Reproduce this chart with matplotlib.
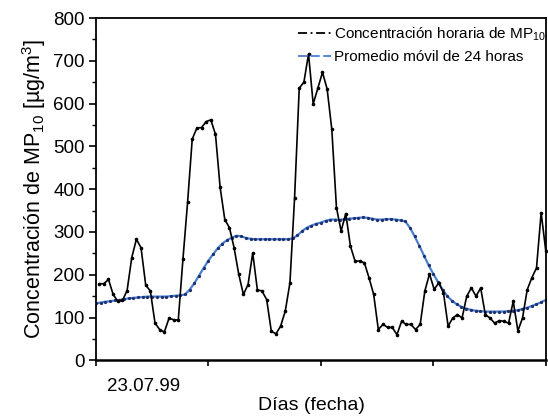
import numpy as np
import matplotlib
matplotlib.use("Agg")
import matplotlib.pyplot as plt
from matplotlib.ticker import MultipleLocator
from matplotlib.transforms import blended_transform_factory

plt.rcParams['font.family'] = ['Liberation Sans', 'DejaVu Sans']
plt.rcParams['mathtext.fontset'] = 'custom'
plt.rcParams['mathtext.rm'] = 'Liberation Sans'
plt.rcParams['mathtext.it'] = 'Liberation Sans:italic'

# Hourly PM10 concentration (µg/m3), starting 23.07.99
hourly_pm10 = [
    179, 179, 189, 154, 138, 140, 163, 240, 283, 263,
    176, 162, 87, 72, 66, 98, 95, 94, 236, 369,
    517, 543, 544, 558, 562, 528, 404, 329, 310, 263,
    201, 154, 177, 251, 165, 162, 142, 68, 62, 80,
    115, 181, 380, 636, 650, 716, 599, 636, 673, 634,
    540, 357, 302, 343, 267, 232, 232, 228, 193, 154,
    72, 84, 77, 77, 60, 91, 84, 84, 72, 84,
    162, 202, 166, 181, 158, 80, 99, 107, 99, 150,
    169, 150, 169, 107, 99, 87, 93, 91, 87, 138,
    69, 99, 165, 193, 216, 345, 255,
]

# 24-hour moving average (µg/m3)
moving_avg_24h = [
    133, 135, 137, 138, 140, 141, 143, 145, 146, 147,
    148, 149, 149, 149, 149, 149, 150, 151, 152, 154,
    165, 180, 198, 216, 233, 248, 262, 273, 281, 287,
    291, 290, 286, 284, 283, 283, 283, 283, 283, 283,
    283, 283, 285, 292, 302, 310, 315, 319, 322, 326,
    329, 329, 328, 330, 331, 332, 333, 334, 333, 331,
    329, 329, 330, 330, 329, 327, 325, 310, 290, 268,
    245, 222, 202, 183, 165, 150, 139, 131, 125, 121,
    118, 116, 115, 114, 114, 114, 114, 114, 115, 116,
    117, 120, 123, 127, 131, 136, 141,
]

day_ticks = [0, 24, 48, 72, 96]
first_day_label = "23.07.99"

hours = np.linspace(0.7, 96, len(hourly_pm10))
hours_avg = np.arange(len(moving_avg_24h))

fig = plt.figure(figsize=(5.48, 4.19), dpi=100)
ax = fig.add_axes([0.175, 0.140, 0.821, 0.817])

ax.plot(hours, hourly_pm10, color='black', lw=1.2, marker='o', ms=1.6,
        zorder=3, clip_on=False)
ax.plot(hours_avg, moving_avg_24h, color='#4a7fd0', lw=1.6, zorder=2)
ax.plot(hours_avg, moving_avg_24h, color='#1c2f6e', lw=0, marker='o',
        ms=1.3, zorder=2)

# legend handles
ax.plot([], [], color='black', lw=1.3, ls=(0, (5, 2, 1, 2)),
        label='Concentración horaria de MP$_{10}$')
ax.plot([], [], color='#4a7fd0', lw=1.3, ls=(0, (5, 2)),
        label='Promedio móvil de 24 horas')
handles, labels = ax.get_legend_handles_labels()
leg = ax.legend(handles[-2:], labels[-2:], loc='upper right', frameon=False,
                fontsize=11, handlelength=2.2, handletextpad=0.2,
                borderaxespad=0.3, labelspacing=0.5,
                bbox_to_anchor=(1.025, 1.01))

ax.set_xlim(0, 96)
ax.set_ylim(0, 800)
ax.set_xticks(day_ticks)
ax.set_xticklabels([])
ax.yaxis.set_major_locator(MultipleLocator(100))
ax.yaxis.set_minor_locator(MultipleLocator(50))
ax.tick_params(axis='both', which='major', direction='out', length=5,
               width=1.2, labelsize=13.5, pad=3)
ax.tick_params(axis='x', which='major', length=4)
ax.tick_params(axis='y', which='minor', direction='out', length=3, width=1.0)
for sp in ax.spines.values():
    sp.set_linewidth(1.3)
ax.spines['bottom'].set_linewidth(1.8)

trans = blended_transform_factory(ax.transData, ax.transAxes)
ax.text(10.2, -0.052, first_day_label, transform=trans, ha='center', va='top',
        fontsize=13.5)

fig.text(0.569, 0.012, 'Días (fecha)', ha='center', va='bottom', fontsize=14)
ax.set_ylabel('Concentración de MP$_{10}$ [µg/m$^{3}$]', fontsize=15.5,
              labelpad=4)

fig.savefig('out.png', dpi=100)
